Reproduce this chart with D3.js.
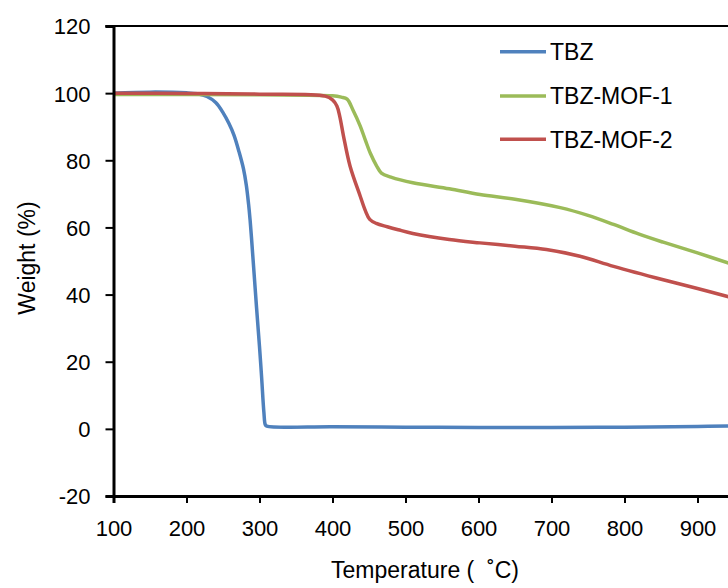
<!DOCTYPE html>
<html>
<head>
<meta charset="utf-8">
<script src="https://cdn.jsdelivr.net/npm/d3@7"></script>
<style>
  body { margin: 0; background: #fff; }
  text { font-family: "Liberation Sans", Arial, sans-serif; fill: #000; }
</style>
</head>
<body>
<div id="tga"></div>
<script>
// TGA curves
var tbzTemp = [100, 150, 200, 215, 228, 240, 250, 258, 265, 272, 278, 282, 285, 287, 289, 292, 296, 300, 303, 306, 308, 310, 400, 500, 600, 700, 800, 900, 945];
var tbzWeight = [100, 100.3, 100.1, 99.8, 99, 97.2, 94.2, 91, 87.5, 82.5, 77.5, 72.5, 67, 62.5, 57, 48, 36, 24.5, 15, 5, 1.2, 0.8, 0.6, 0.5, 0.4, 0.4, 0.5, 0.7, 0.9];

var mof1Temp = [100, 200, 300, 400, 412, 420, 428, 438, 445, 452, 460, 467, 480, 510, 560, 602, 650, 712, 750, 785, 820, 853, 900, 945];
var mof1Weight = [99.6, 99.6, 99.5, 99.2, 98.8, 98.2, 95, 90.2, 86, 82, 78.5, 76.2, 75, 73.3, 71.5, 69.8, 68.4, 65.9, 63.6, 60.9, 58.0, 55.6, 52.4, 49.2];

var mof2Temp = [100, 200, 300, 390, 400, 406, 410, 415, 424, 438, 445, 451, 460, 475, 490, 510, 560, 602, 650, 693, 739, 785, 853, 900, 945];
var mof2Weight = [100, 99.9, 99.7, 99.1, 98, 96.2, 93, 87.3, 78.3, 69.3, 65, 62.4, 61.2, 60.2, 59.3, 58.2, 56.4, 55.4, 54.4, 53.4, 51.4, 48.4, 44.4, 41.8, 39.2];

var seriesNames = ["TBZ", "TBZ-MOF-1", "TBZ-MOF-2"];
var seriesColors = ["#4F81BD", "#9BBB59", "#C0504D"];
var xTicks = [100, 200, 300, 400, 500, 600, 700, 800, 900];
var yTicks = [-20, 0, 20, 40, 60, 80, 100, 120];

var series = [
    { name: seriesNames[0], color: seriesColors[0], t: tbzTemp, w: tbzWeight },
    { name: seriesNames[1], color: seriesColors[1], t: mof1Temp, w: mof1Weight },
    { name: seriesNames[2], color: seriesColors[2], t: mof2Temp, w: mof2Weight }
];

var width = 728, height = 588;
var plot = { left: 113.5, top: 26, right: 770.5, bottom: 496 };

var svg = d3.select("#tga")
    .append("svg")
    .attr("width", width)
    .attr("height", height);

var x = d3.scaleLinear().domain([100, 1000]).range([plot.left, plot.right]);
var y = d3.scaleLinear().domain([-20, 120]).range([plot.bottom, plot.top]);

// top frame line
svg.append("line")
    .attr("x1", plot.left - 8).attr("x2", width)
    .attr("y1", y(120)).attr("y2", y(120))
    .attr("stroke", "#000").attr("stroke-width", 2);

// curves
var line = d3.line()
    .x(function (d) { return x(d[0]); })
    .y(function (d) { return y(d[1]); })
    .curve(d3.curveCatmullRom.alpha(0.5));

series.forEach(function (s) {
    svg.append("path")
        .datum(d3.zip(s.t, s.w))
        .attr("fill", "none")
        .attr("stroke", s.color)
        .attr("stroke-width", 3.5)
        .attr("stroke-linejoin", "round")
        .attr("d", line);
});

// plain hyphen for negatives, like the original
var fmt = function (d) { return String(d); };

// Y axis
var yAxis = svg.append("g")
    .attr("transform", "translate(" + plot.left + ",0)")
    .call(d3.axisLeft(y).tickValues(yTicks).tickFormat(fmt).tickSize(8).tickPadding(15));
yAxis.select(".domain").attr("stroke-width", 3);
yAxis.selectAll(".tick line").attr("stroke-width", 2);
yAxis.selectAll("text").style("font-size", "22px").attr("dy", "0.36em");

// X axis
var xAxis = svg.append("g")
    .attr("transform", "translate(0," + plot.bottom + ")")
    .call(d3.axisBottom(x).tickValues(xTicks).tickFormat(fmt).tickSize(7).tickPadding(17));
xAxis.select(".domain").attr("stroke-width", 3);
xAxis.selectAll(".tick line").attr("stroke-width", 2);
xAxis.selectAll("text").style("font-size", "22px");

// axis titles
svg.append("text")
    .attr("transform", "translate(35,258) rotate(-90)")
    .style("text-anchor", "middle")
    .style("font-size", "23px")
    .text("Weight (%)");

svg.append("text")
    .attr("x", 425)
    .attr("y", 578)
    .style("text-anchor", "middle")
    .style("font-size", "23px")
    .attr("xml:space", "preserve")
    .text("Temperature (  \u02DAC)");

// legend
var legend = svg.append("g");
series.forEach(function (s, i) {
    var ly = [51.7, 96, 139.3][i];
    legend.append("line")
        .attr("x1", 500).attr("x2", 546)
        .attr("y1", ly).attr("y2", ly)
        .attr("stroke", s.color).attr("stroke-width", 3.5);
    legend.append("text")
        .attr("x", 550).attr("y", ly)
        .attr("dy", "0.36em")
        .style("font-size", "23px")
        .text(s.name);
});
</script>
</body>
</html>
